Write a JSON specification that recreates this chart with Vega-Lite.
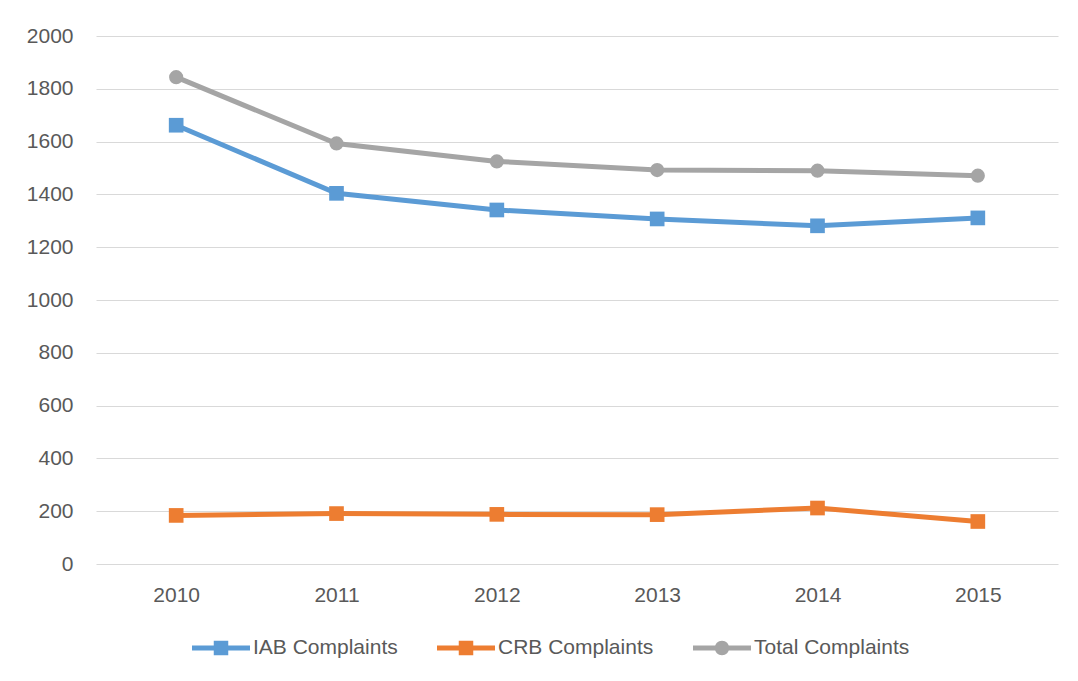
{
  "$schema": "https://vega.github.io/schema/vega-lite/v6.json",
  "width": 962,
  "height": 528,
  "autosize": {"type": "none"},
  "padding": {"left": 96, "top": 36, "right": 20, "bottom": 117},
  "background": "white",
  "config": {
    "view": {"stroke": null},
    "font": "Liberation Sans",
    "axis": {"labelFont": "Liberation Sans", "labelFontSize": 21, "labelColor": "#595959"},
    "legend": {"labelFont": "Liberation Sans"}
  },
  "data": {
    "values": [
      {"year": "2010", "series": "IAB Complaints", "value": 1662},
      {"year": "2011", "series": "IAB Complaints", "value": 1404},
      {"year": "2012", "series": "IAB Complaints", "value": 1341},
      {"year": "2013", "series": "IAB Complaints", "value": 1307},
      {"year": "2014", "series": "IAB Complaints", "value": 1281},
      {"year": "2015", "series": "IAB Complaints", "value": 1311},
      {"year": "2010", "series": "CRB Complaints", "value": 184},
      {"year": "2011", "series": "CRB Complaints", "value": 191},
      {"year": "2012", "series": "CRB Complaints", "value": 188},
      {"year": "2013", "series": "CRB Complaints", "value": 187},
      {"year": "2014", "series": "CRB Complaints", "value": 212},
      {"year": "2015", "series": "CRB Complaints", "value": 161},
      {"year": "2010", "series": "Total Complaints", "value": 1844},
      {"year": "2011", "series": "Total Complaints", "value": 1593},
      {"year": "2012", "series": "Total Complaints", "value": 1525},
      {"year": "2013", "series": "Total Complaints", "value": 1492},
      {"year": "2014", "series": "Total Complaints", "value": 1490},
      {"year": "2015", "series": "Total Complaints", "value": 1471}
    ]
  },
  "encoding": {
    "x": {
      "field": "year", "type": "ordinal",
      "scale": {"type": "point", "padding": 0.5},
      "axis": {"title": null, "domain": false, "ticks": false, "tickSize": 0, "labelPadding": 20, "labelAngle": 0, "grid": false}
    },
    "y": {
      "field": "value", "type": "quantitative",
      "scale": {"domain": [0, 2000], "nice": false},
      "axis": {
        "title": null, "domain": false, "ticks": false, "tickSize": 0, "labelPadding": 23, "format": "d",
        "values": [0, 200, 400, 600, 800, 1000, 1200, 1400, 1600, 1800, 2000],
        "grid": true, "gridColor": "#D9D9D9", "gridWidth": 1
      }
    }
  },
  "layer": [
    {
      "mark": {"type": "line", "strokeWidth": 5},
      "encoding": {
        "color": {
          "field": "series", "type": "nominal",
          "scale": {
            "domain": ["IAB Complaints", "CRB Complaints", "Total Complaints"],
            "range": ["#5B9BD5", "#ED7D31", "#A5A5A5"]
          },
          "legend": {
            "title": null,
            "orient": "none",
            "legendX": 96,
            "legendY": 583,
            "direction": "horizontal",
            "padding": 0,
            "symbolSize": 3364,
            "symbolStrokeWidth": 0,
            "symbolOpacity": 1,
            "labelFontSize": 21,
            "labelColor": "#595959",
            "labelOffset": 3,
            "columnPadding": 39,
            "encode": {
              "symbols": {
                "update": {
                  "shape": {"signal": "datum.value === 'Total Complaints' ? 'M -1 -0.085 L 1 -0.085 L 1 0.085 L -1 0.085 Z M 0.25 0 A 0.25 0.25 0 1 1 -0.25 0 A 0.25 0.25 0 1 1 0.25 0 Z' : 'M -1 -0.085 L 1 -0.085 L 1 0.085 L -1 0.085 Z M -0.25 -0.25 L 0.25 -0.25 L 0.25 0.25 L -0.25 0.25 Z'"},
                  "fill": {"scale": "color", "field": "value"},
                  "strokeWidth": {"value": 0},
                  "opacity": {"value": 1}
                }
              }
            }
          }
        }
      }
    },
    {
      "transform": [{"filter": "datum.series !== 'Total Complaints'"}],
      "mark": {"type": "point", "filled": true, "opacity": 1, "shape": "square", "size": 215},
      "encoding": {
        "color": {"field": "series", "type": "nominal", "legend": null}
      }
    },
    {
      "transform": [{"filter": "datum.series === 'Total Complaints'"}],
      "mark": {"type": "point", "filled": true, "opacity": 1, "shape": "circle", "size": 200},
      "encoding": {
        "color": {"field": "series", "type": "nominal", "legend": null}
      }
    }
  ]
}
